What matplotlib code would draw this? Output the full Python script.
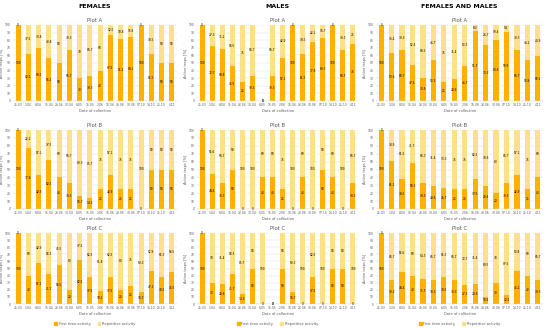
import numpy as np
import matplotlib.pyplot as plt
from matplotlib.patches import Patch

dates = ["25.03", "1.04", "8.04", "15.04", "23.04", "30.04", "6.05", "15.05",
         "2.06", "16.06", "23.06", "30.06", "07.10", "14.10", "25.10", "4.11"]

# first time activity [%] per plot, repetitive activity [%] per plot
fem_a_first = [100, 62.5, 69.2, 56.2, 50, 66.7, 30, 33.3, 40, 87.5, 81.2, 84.2, 100, 61.5, 50, 50]
fem_a_rep = [0, 37.5, 30.8, 43.8, 50, 33.3, 70, 66.7, 60, 12.5, 18.8, 15.8, 0, 38.5, 50, 50]
fem_b_first = [100, 77.8, 42.9, 62.5, 40, 33.3, 16.7, 14.3, 25, 42.9, 25, 25, 0, 50, 50, 50]
fem_b_rep = [0, 22.2, 57.1, 37.5, 60, 66.7, 83.3, 85.7, 75, 57.1, 75, 75, 100, 50, 50, 50]
fem_c_first = [100, 40, 57.1, 41.7, 54.5, 20, 62.5, 37.5, 18.2, 37.5, 20, 25, 16.7, 47.1, 38.5, 45.5]
fem_c_rep = [0, 60, 42.9, 58.3, 45.5, 80, 37.5, 62.5, 81.8, 62.5, 80, 75, 83.3, 52.9, 61.5, 54.5]

mal_a_first = [100, 72.7, 68.8, 45.5, 25, 33.3, 0, 33.3, 57.1, 100, 61.5, 77.8, 83.3, 100, 66.7, 75]
mal_a_rep = [0, 27.3, 31.2, 54.5, 75, 66.7, 0, 66.7, 42.9, 0, 38.5, 22.2, 16.7, 0, 33.3, 25]
mal_b_first = [100, 44.4, 33.3, 50, 0, 0, 40, 40, 25, 0, 40, 0, 50, 40, 0, 33.3]
mal_b_rep = [0, 55.6, 66.7, 50, 100, 100, 60, 60, 75, 100, 60, 100, 50, 60, 100, 66.7]
mal_c_first = [100, 30, 28.6, 41.7, 14.3, 50, 0, 0, 50, 16.7, 0, 37.5, 0, 50, 50, 0]
mal_c_rep = [0, 70, 71.4, 58.3, 85.7, 50, 100, 0, 50, 83.3, 100, 62.5, 100, 50, 50, 100]

all_a_first = [100, 63.6, 66.7, 47.6, 30.8, 53.3, 25, 28.6, 46.7, 91.7, 73.3, 80.6, 90.9, 66.7, 53.8, 59.1]
all_a_rep = [0, 36.4, 33.3, 52.4, 69.2, 46.7, 75, 71.4, 53.3, 8.3, 26.7, 19.4, 9.1, 33.3, 46.2, 40.9]
all_b_first = [100, 61.1, 38.5, 58.3, 33.3, 28.6, 26.7, 25, 25, 37.5, 29.4, 20, 33.3, 42.9, 25, 40]
all_b_rep = [0, 38.9, 61.5, 41.7, 66.7, 71.4, 73.3, 75, 75, 62.5, 70.6, 80, 66.7, 57.1, 75, 60]
all_c_first = [100, 33.3, 44.4, 40, 35.7, 33.3, 38.5, 33.3, 27.3, 28.6, 10.5, 30, 12.5, 46.2, 40, 33.3]
all_c_rep = [0, 66.7, 55.6, 60, 64.3, 66.7, 61.5, 66.7, 72.7, 71.4, 89.5, 70, 87.5, 53.8, 60, 66.7]

headers = ["FEMALES", "MALES", "FEMALES AND MALES"]
titles = ["Plot A", "Plot B", "Plot C"]
columns = [
    [(fem_a_first, fem_a_rep), (fem_b_first, fem_b_rep), (fem_c_first, fem_c_rep)],
    [(mal_a_first, mal_a_rep), (mal_b_first, mal_b_rep), (mal_c_first, mal_c_rep)],
    [(all_a_first, all_a_rep), (all_b_first, all_b_rep), (all_c_first, all_c_rep)],
]

dark = "#FFB000"
light = "#FFE08A"

W, H = 550, 328
fig = plt.figure(figsize=(5.5, 3.28), dpi=100)

col_x = [(13, 177), (197, 358), (376, 543)]
row_y = [(25, 101), (130, 209), (233, 304)]

def fmt(v):
    return "%g" % v

x = np.arange(len(dates))
for c, (x0, x1) in enumerate(col_x):
    fig.text((x0 + x1) / 2 / W, 1 - 6 / H, headers[c], ha="center", va="center",
             fontsize=4.5, fontweight="bold")
    for r, (y0, y1) in enumerate(row_y):
        first, rep = columns[c][r]
        ax = fig.add_axes([x0 / W, 1 - y1 / H, (x1 - x0) / W, (y1 - y0) / H])
        ax.bar(x, first, width=0.5, color=dark, zorder=2)
        ax.bar(x, rep, width=0.5, bottom=first, color=light, zorder=2)
        for i in range(len(x)):
            ax.text(x[i], first[i] / 2 if first[i] > 0 else 0, fmt(first[i]),
                    ha="center", va="center", fontsize=2.1, zorder=3)
            ax.text(x[i], first[i] + rep[i] / 2, fmt(rep[i]),
                    ha="center", va="center", fontsize=2.1, zorder=3)
        ax.set_xlim(-0.5, len(x) - 0.5)
        ax.set_ylim(0, 100)
        ax.set_yticks(range(0, 101, 10))
        ax.set_xticks(x)
        ax.set_xticklabels(dates)
        ax.tick_params(labelsize=2.2, length=0, pad=1.5, colors="#595959")
        ax.grid(axis="y", color="#D9D9D9", linewidth=0.3, zorder=0)
        for s in ["top", "right", "left"]:
            ax.spines[s].set_visible(False)
        ax.spines["bottom"].set_color("#D9D9D9")
        ax.spines["bottom"].set_linewidth(0.3)
        ax.set_title(titles[r], fontsize=3.8, color="#595959", pad=2)
        ax.set_xlabel("Date of collection", fontsize=2.6, color="#595959", labelpad=1.5)
        ax.set_ylabel("Active traps [%]", fontsize=2.6, color="#595959", labelpad=1)
    handles = [Patch(color=dark, label="First time activity"),
               Patch(color=light, label="Repetitive activity")]
    fig.legend(handles=handles, loc="center", ncol=2, frameon=False, fontsize=2.6,
               bbox_to_anchor=((x0 + x1) / 2 / W, 1 - 324 / H),
               handlelength=0.7, handleheight=0.7, columnspacing=2, handletextpad=0.5,
               labelcolor="#595959")

fig.savefig("out.png", dpi=100)
